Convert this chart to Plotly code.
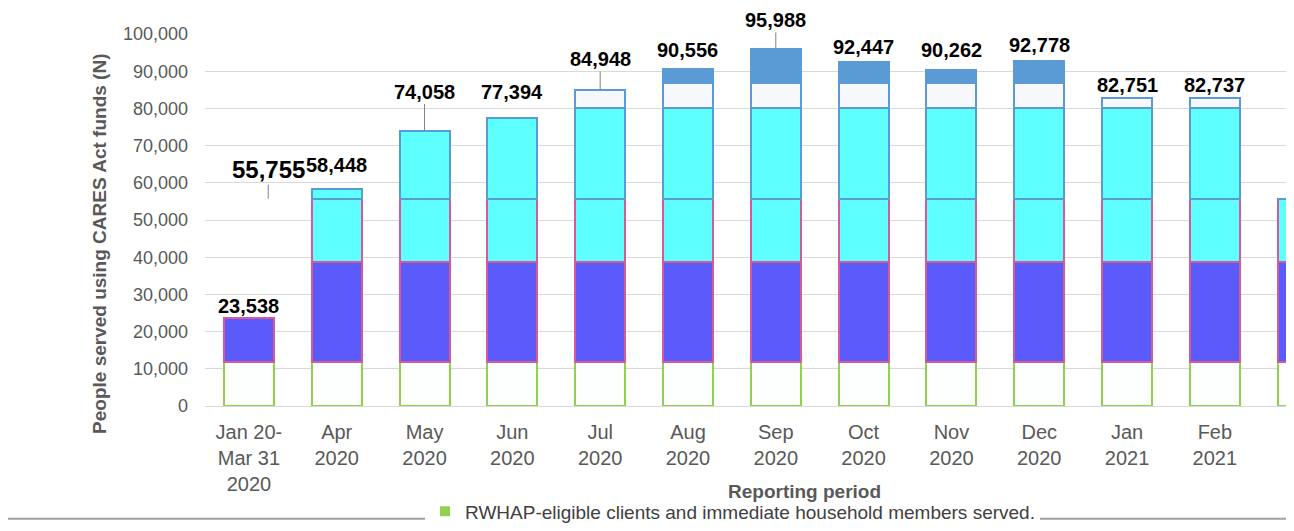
import plotly.graph_objects as go

# ---- data ----
periods = ["Jan 20-<br>Mar 31<br>2020", "Apr<br>2020", "May<br>2020", "Jun<br>2020",
           "Jul<br>2020", "Aug<br>2020", "Sep<br>2020", "Oct<br>2020", "Nov<br>2020",
           "Dec<br>2020", "Jan<br>2021", "Feb<br>2021", "Mar<br>2021"]
people_served = [23538, 58448, 74058, 77394, 84948, 90556, 95988, 92447, 90262,
                 92778, 82751, 82737, 55755]
value_labels = ["23,538", "58,448", "74,058", "77,394", "84,948", "90,556", "95,988",
                "92,447", "90,262", "92,778", "82,751", "82,737", "55,755"]
y_ticks = [0, 10000, 20000, 30000, 40000, 50000, 60000, 70000, 80000, 90000, 100000]
legend_name = "RWHAP-eligible clients and immediate household members served."

# ---- style ----
FONT = "Liberation Sans, Arial, sans-serif"
# colour bands along the value axis: (from, to, fill, outline)
bands = [
    (0, 11700, "#FDFEFE", "#92D050"),
    (11700, 38800, "#5B5BFB", "#D65A9A"),
    (38800, 55700, "#5EFFFF", "#D65A9A"),
    (55700, 80000, "#5EFFFF", "#5B9BD5"),
    (80000, 86800, "#F6F8FC", "#5B9BD5"),
    (86800, 1e9, "#5B9BD5", "#5B9BD5"),
]
# how far (px) each data label sits above its bar, as placed in the reference
label_lift = [12, 24, 39, 26, 31, 19, 29, 15, 20, 16, 13, 13, 29]

fig = go.Figure()
for lo, hi, fill, line in bands:
    seg = [(min(v, hi) - lo) if v > lo else None for v in people_served]
    fig.add_trace(go.Bar(
        x=periods, y=seg, marker=dict(color=fill, line=dict(color=line, width=2)),
        showlegend=False, hoverinfo="skip"))

fig.add_trace(go.Scatter(
    x=[None], y=[None], mode="markers", name=legend_name,
    marker=dict(symbol="square", color="#92D050", size=10)))

annotations = []
for i, (p, v, t, lift) in enumerate(zip(periods, people_served, value_labels, label_lift)):
    last = i == len(periods) - 1
    annotations.append(dict(
        text="<b>" + t + "</b>",
        x=(0.22 if last else p), y=v, xref="x", yref="y",
        showarrow=True, arrowhead=0, arrowwidth=1, ax=0, ay=-lift,
        arrowcolor=("#808080" if lift >= 28 else "rgba(0,0,0,0)"),
        font=dict(family=FONT, size=(24 if last else 20), color="#000000")))

annotations += [
    dict(text="<b>People served using CARES Act funds (N)</b>", textangle=-90,
         xref="paper", yref="paper", x=-0.097, y=0.436, xanchor="center", yanchor="middle",
         showarrow=False, font=dict(family=FONT, size=19, color="#595959")),
    dict(text="<b>Reporting period</b>", xref="paper", yref="paper",
         x=0.555, y=-0.2295, xanchor="center", yanchor="middle",
         showarrow=False, font=dict(family=FONT, size=19, color="#595959")),
]

fig.update_layout(
    barmode="stack", bargap=0.43,
    plot_bgcolor="white", paper_bgcolor="white",
    margin=dict(l=197, r=0, t=26, b=116.5, autoexpand=False),
    font=dict(family=FONT, color="#595959"),
    legend=dict(orientation="h", x=0.488, xanchor="center", y=-0.283, yanchor="middle",
                font=dict(family=FONT, size=19, color="#404040"), bgcolor="white",
                itemwidth=30, tracegroupgap=0),
    xaxis=dict(range=[-0.5, 11.81], tickfont=dict(size=20, color="#595959"),
               ticklabelstandoff=12, showgrid=False, showline=False, ticks=""),
    yaxis=dict(range=[0, 100000], tickvals=y_ticks, tickformat=",d",
               tickfont=dict(size=18, color="#595959"), ticklabelstandoff=16,
               showgrid=True, gridcolor="#D9D9D9", gridwidth=1,
               zeroline=True, zerolinecolor="#D9D9D9", zerolinewidth=1),
    shapes=[dict(type="line", xref="paper", yref="paper", x0=-0.19, x1=1.0,
                 y0=-0.303, y1=-0.303, line=dict(color="#A0A0A0", width=2), layer="below")],
    annotations=annotations,
)

fig.write_html("out.html")
